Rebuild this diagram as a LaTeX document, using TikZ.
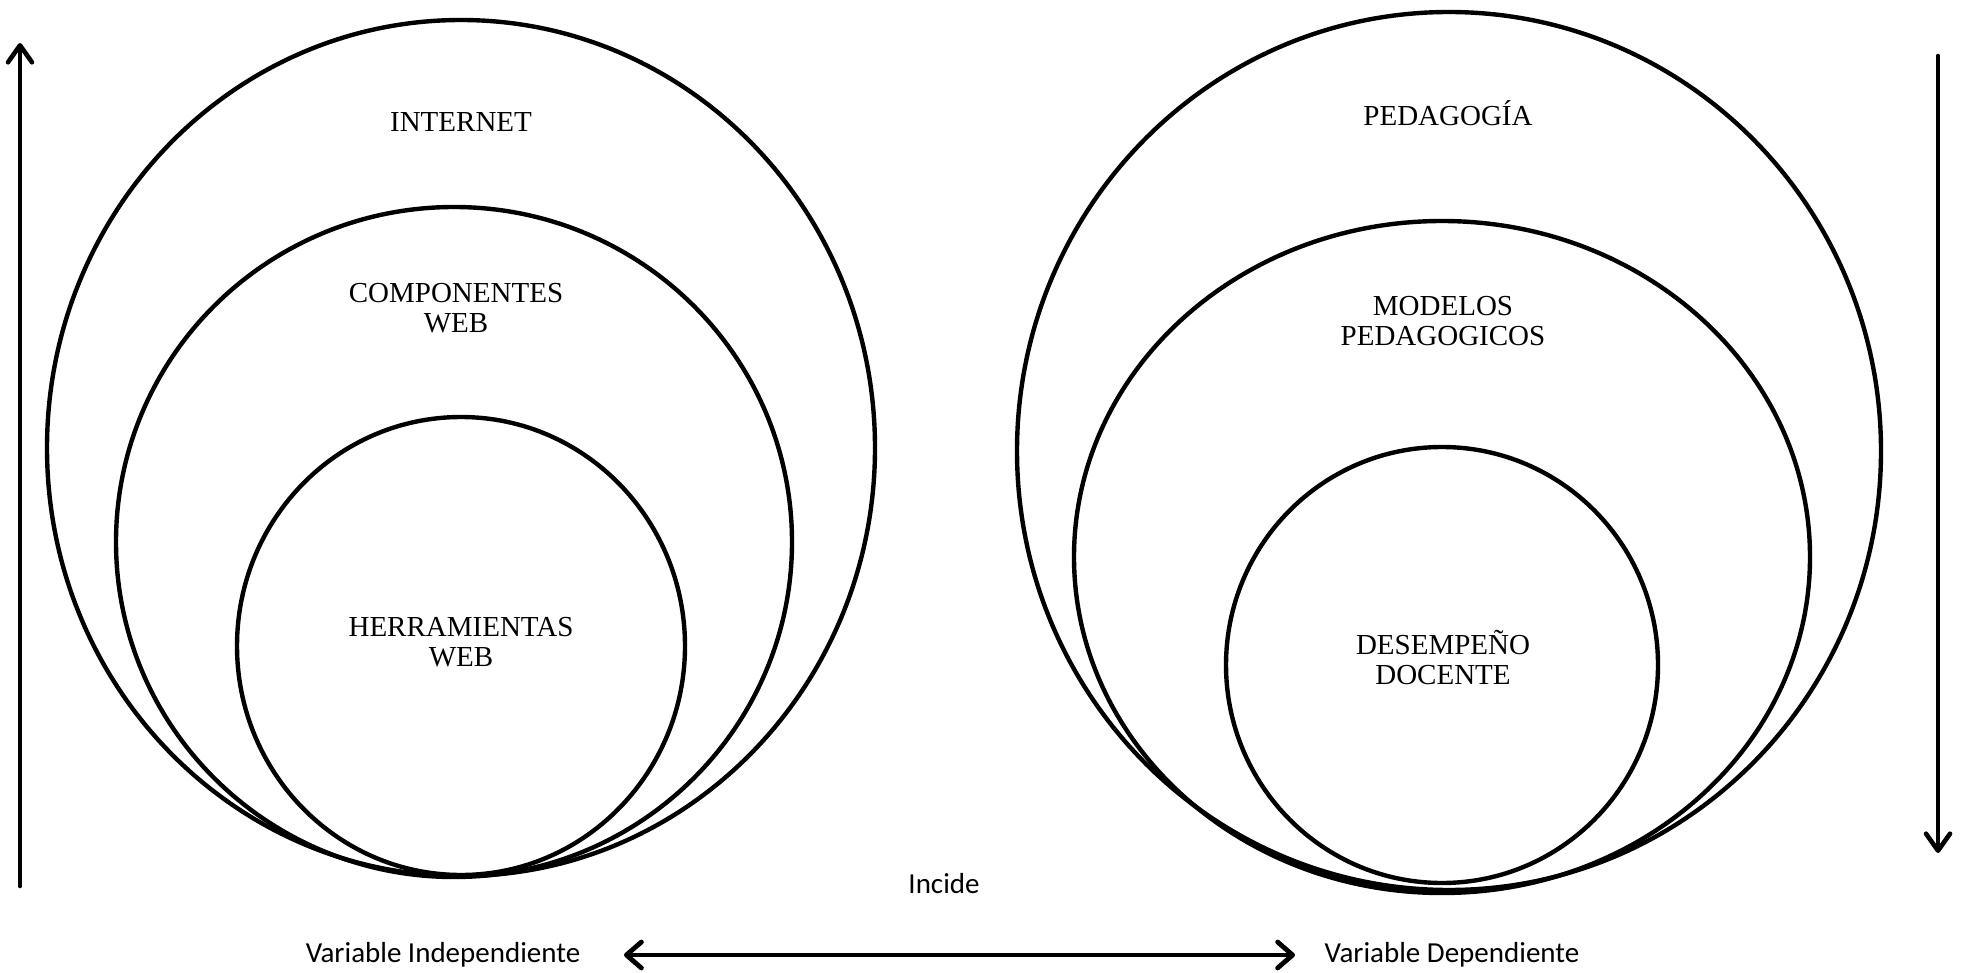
\documentclass[tikz,border=0pt]{standalone}
\usepackage{fontspec}
\setmainfont{Liberation Serif}
\newfontfamily\calib{Carlito}
\usetikzlibrary{shapes.geometric,arrows.meta}
\tikzset{
  ring/.style={draw, ellipse, line width=4.4pt, inner sep=0pt, outer sep=0pt},
  lbl/.style={align=center, inner sep=0pt, font=\fontsize{29}{30}\selectfont},
  slbl/.style={inner sep=0pt, font=\calib\fontsize{29}{32}\selectfont},
  barb/.style={line width=4.6pt, line cap=round, -{Straight Barb[length=17pt,width=24pt,line cap=round,line join=round]}},
  dbarb/.style={line width=4.8pt, {Straight Barb[length=15pt,width=26pt,line cap=round,line join=round]}-{Straight Barb[length=15pt,width=26pt,line cap=round,line join=round]}}
}
\begin{document}
\begin{tikzpicture}[x=1pt,y=-1pt]
\useasboundingbox (0,0) rectangle (1961,973);
% left group
\node[ring, minimum width=828pt, minimum height=856pt] (lo) at (461,448) {};
\node[ring, minimum width=676pt, minimum height=670pt] (lm) at (454,542) {};
\node[ring, minimum width=448pt, minimum height=458pt] (li) at (461,646) {};
\node[lbl] (t1) at (461,122) {INTERNET};
\node[lbl] (t2) at (456,308) {COMPONENTES\\WEB};
\node[lbl] (t3) at (461,642) {HERRAMIENTAS\\WEB};
% right group
\node[ring, minimum width=864pt, minimum height=878pt] (ro) at (1449,451) {};
\node[ring, minimum width=736pt, minimum height=672pt] (rm) at (1442,557) {};
\node[ring, minimum width=432pt, minimum height=436pt] (ri) at (1442,665) {};
\node[lbl] (t4) at (1448,113) {PEDAGOGÍA};
\node[lbl] (t5) at (1443,321) {MODELOS\\PEDAGOGICOS};
\node[lbl] (t6) at (1443,658) {DESEMPEÑO\\DOCENTE};
% side arrows
\coordinate (la0) at (20,886);
\coordinate (la1) at (20,43);
\draw[barb] (la0) -- (la1);
\coordinate (ra0) at (1938,56);
\coordinate (ra1) at (1938,853);
\draw[barb] (ra0) -- (ra1);
% bottom
\node[slbl] (inc) at (944,884) {Incide};
\node[slbl] (vi) at (443,955) {Variable Independiente};
\node[slbl] (vd) at (1452,955) {Variable Dependiente};
\coordinate (b0) at (624,955);
\coordinate (b1) at (1295,955);
\draw[dbarb] (b0) -- (b1);
\end{tikzpicture}
\end{document}
